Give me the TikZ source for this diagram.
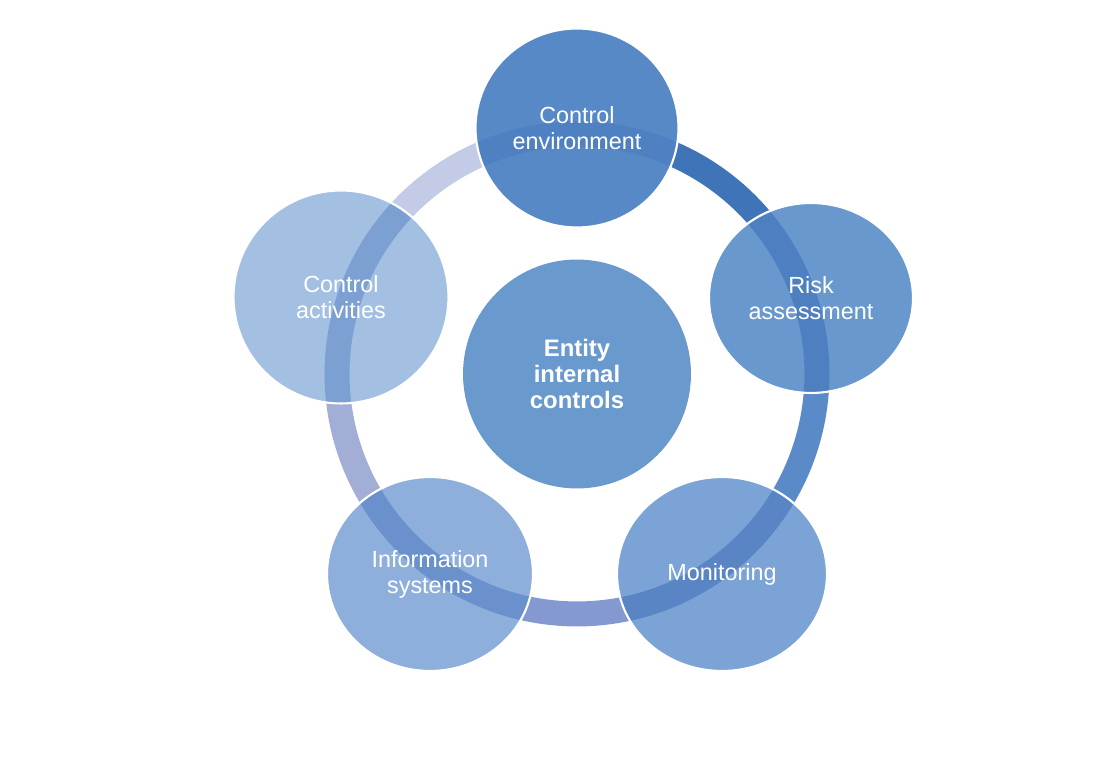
\documentclass[tikz,border=0pt]{standalone}
\usepackage{fontspec}
\setmainfont{Liberation Sans}
\usetikzlibrary{shapes.geometric}

\definecolor{envfill}{RGB}{86,137,198}
\definecolor{riskfill}{RGB}{104,152,206}
\definecolor{monfill}{RGB}{123,163,213}
\definecolor{infofill}{RGB}{142,175,220}
\definecolor{actfill}{RGB}{163,191,226}
\definecolor{corefill}{RGB}{106,153,206}
\definecolor{ringA}{RGB}{63,117,184}
\definecolor{ringB}{RGB}{90,139,200}
\definecolor{ringC}{RGB}{132,153,207}
\definecolor{ringD}{RGB}{162,174,214}
\definecolor{ringE}{RGB}{196,203,230}
\definecolor{ringshade}{RGB}{40,90,175}

\begin{document}
\begin{tikzpicture}[
		x=0.02cm, y=0.02cm,
		every node/.style={ellipse, inner sep=0pt, align=center, text=white,
			font=\fontsize{13.3}{14.8}\selectfont},
		ring/.style={line width=0.5cm},
		part/.style={draw=white, line width=1.2pt,
			path picture={\draw[ring, draw=ringshade, draw opacity=#1] (mid) circle[radius=4.8cm];}}
	]
  \useasboundingbox (0,0) rectangle (1120,778);
  \coordinate (mid) at (577,404);
  % ring between the parts
  \foreach \a/\b/\c in {90/18/ringA, 18/-54/ringB, -54/-126/ringC, -126/-198/ringD, 162/90/ringE}
    \draw[ring, draw=\c] (mid) ++(\a:4.8cm) arc[start angle=\a, end angle=\b, radius=4.8cm];
  \node (env) [part=0.15, fill=envfill, minimum width=4.06cm, minimum height=3.98cm] at (577,650) {Control\\environment};
  \node (risk) [part=0.4, fill=riskfill, minimum width=4.08cm, minimum height=3.8cm] at (811,480) {Risk\\assessment};
  \node (mon) [part=0.4, fill=monfill, minimum width=4.2cm, minimum height=3.88cm] at (722,204) {Monitoring};
  \node (info) [part=0.35, fill=infofill, minimum width=4.12cm, minimum height=3.88cm] at (430,204) {Information\\systems};
  \node (act) [part=0.3, fill=actfill, minimum width=4.3cm, minimum height=4.26cm] at (341,481) {Control\\activities};
  \node (core) [fill=corefill, minimum width=4.56cm, minimum height=4.58cm,
    font=\fontsize{13.6}{14.8}\selectfont\bfseries] at (mid) {Entity\\internal\\controls};
\end{tikzpicture}
\end{document}
